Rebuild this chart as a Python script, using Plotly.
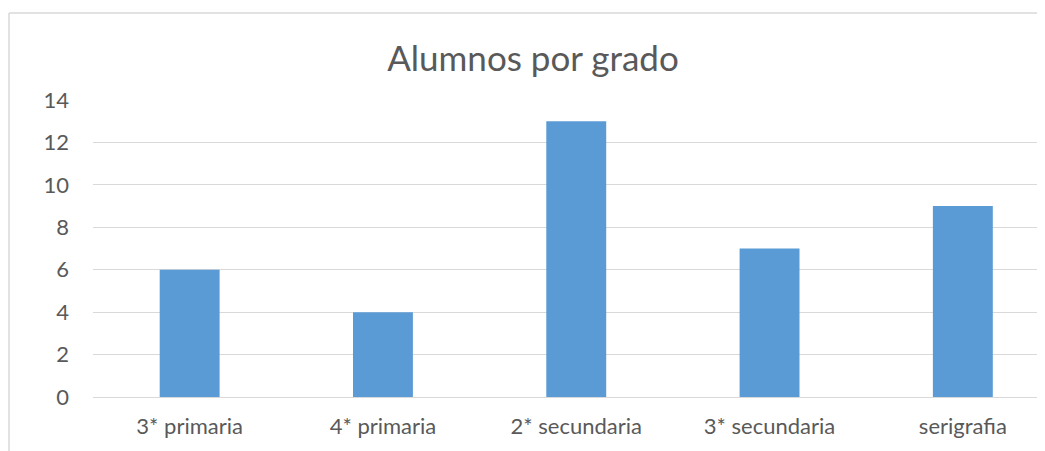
import plotly.graph_objects as go

categories = ["3* primaria", "4* primaria", "2* secundaria", "3* secundaria", "serigrafia"]
values = [6, 4, 13, 7, 9]
y_ticks = [0, 2, 4, 6, 8, 10, 12, 14]

# page body has an 8px margin, so the figure is drawn offset by (8, 8)
W, H = 1037, 443
ml, mr, mt, mb = 85, 0, 92, 54
pw = W - ml - mr
ph = H - mt - mb

fig = go.Figure(go.Bar(
    x=categories, y=values, width=0.31,
    marker=dict(color="#5B9BD5", line=dict(width=0)),
))

# outer chart border (left and top visible)
bx = (1 - ml) / pw
by = (H - 5 - mb) / ph
fig.add_shape(type="line", xref="paper", yref="paper", x0=bx, x1=1.2, y0=by, y1=by,
              line=dict(color="#D9D9D9", width=1.5))
fig.add_shape(type="line", xref="paper", yref="paper", x0=bx, x1=bx, y0=by, y1=-0.5,
              line=dict(color="#D9D9D9", width=1.5))

fig.update_layout(
    width=W, height=H,
    margin=dict(l=ml, r=mr, t=mt, b=mb),
    paper_bgcolor="white", plot_bgcolor="white",
    title=dict(text="Alumnos por grado", x=525 / W, xanchor="center",
               y=1 - 51 / H, yanchor="middle",
               font=dict(family="Lato, Calibri, sans-serif", size=35, color="#595959")),
    font=dict(family="Lato, Calibri, sans-serif", size=22, color="#595959"),
    showlegend=False,
)
fig.update_xaxes(range=[-0.5, 4.425], showgrid=False, showline=False, ticks="",
                 tickfont=dict(size=22, color="#595959"), ticklabelstandoff=14)
fig.update_yaxes(range=[0, 14], tickvals=y_ticks, showgrid=True, gridcolor="#D9D9D9", gridwidth=1.3,
                 zeroline=True, zerolinecolor="#D9D9D9", zerolinewidth=1.3, showline=False,
                 ticks="", tickfont=dict(size=22, color="#595959"), ticklabelstandoff=23)

fig.write_html("out.html")
